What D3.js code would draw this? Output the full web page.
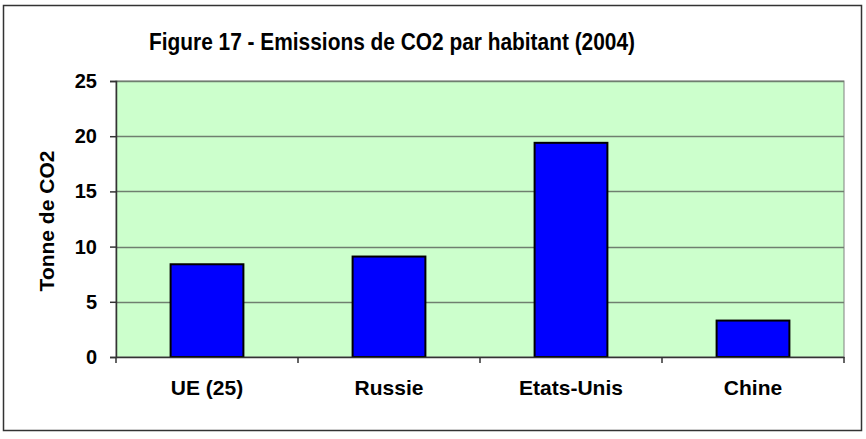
<!DOCTYPE html>
<html>
<head>
<meta charset="utf-8">
<script src="https://cdn.jsdelivr.net/npm/d3@7"></script>
<style>
  body { margin: 0; background: #fff; }
  text { font-family: Arial, "Liberation Sans", sans-serif; font-weight: bold; fill: #000; }
</style>
</head>
<body>
<div id="chart"></div>
<script>
// données
const pays = ["UE (25)", "Russie", "Etats-Unis", "Chine"];
const co2 = [8.4, 9.1, 19.4, 3.3];
const yTicks = [0, 5, 10, 15, 20, 25];

const W = 866, H = 439;
const plot = { left: 116, right: 844, top: 81, bottom: 357 };

const svg = d3.select("#chart").append("svg")
  .attr("width", W)
  .attr("height", H);

// cadre extérieur
svg.append("rect")
  .attr("x", 3.5).attr("y", 5.5)
  .attr("width", 858).attr("height", 425)
  .attr("fill", "#fff")
  .attr("stroke", "#333")
  .attr("stroke-width", 1.5);

const x = d3.scaleBand()
  .domain(pays)
  .range([plot.left, plot.right])
  .paddingInner(0)
  .paddingOuter(0);

const y = d3.scaleLinear()
  .domain([0, 25])
  .range([plot.bottom, plot.top]);

// fond de la zone de traçage
svg.append("rect")
  .attr("x", plot.left).attr("y", plot.top)
  .attr("width", plot.right - plot.left)
  .attr("height", plot.bottom - plot.top)
  .attr("fill", "#CCFFCC")
  .attr("stroke", "#808080");

// quadrillage
svg.append("g")
  .selectAll("line")
  .data(yTicks.filter(d => d > 0))
  .join("line")
  .attr("x1", plot.left).attr("x2", plot.right)
  .attr("y1", d => Math.round(y(d)) + 0.5)
  .attr("y2", d => Math.round(y(d)) + 0.5)
  .attr("stroke", "#6f7f6f")
  .attr("stroke-width", 1.5);

// barres (largeur d'intervalle 150%)
const bw = x.bandwidth() / 2.5;
svg.append("g")
  .selectAll("rect")
  .data(pays)
  .join("rect")
  .attr("x", d => x(d) + (x.bandwidth() - bw) / 2)
  .attr("y", (d, i) => y(co2[i]))
  .attr("width", bw)
  .attr("height", (d, i) => y(0) - y(co2[i]))
  .attr("fill", "#0000FF")
  .attr("stroke", "#000")
  .attr("stroke-width", 2);

// axe Y
const yAxis = svg.append("g")
  .attr("transform", `translate(${plot.left},0)`)
  .call(d3.axisLeft(y).tickValues(yTicks).tickSize(6).tickPadding(13));
yAxis.select(".domain").attr("stroke", "#333").attr("stroke-width", 1.5);
yAxis.selectAll(".tick line").attr("stroke", "#333").attr("stroke-width", 1.5);
yAxis.selectAll(".tick text")
  .attr("font-size", 20)
  .attr("font-family", null)
  .attr("fill", "#000");

// axe X
const xAxis = svg.append("g")
  .attr("transform", `translate(0,${plot.bottom})`)
  .call(d3.axisBottom(x).tickSize(0).tickPadding(23));
xAxis.select(".domain").attr("stroke", "#333").attr("stroke-width", 1.5);
xAxis.selectAll(".tick text")
  .attr("font-size", 21)
  .attr("font-family", null)
  .attr("fill", "#000");

// graduations entre catégories
const bornes = pays.map(d => x(d)).concat([plot.right]);
xAxis.append("g")
  .selectAll("line")
  .data(bornes)
  .join("line")
  .attr("x1", d => d).attr("x2", d => d)
  .attr("y1", 0).attr("y2", 6)
  .attr("stroke", "#333")
  .attr("stroke-width", 1.5);

// titre
svg.append("text")
  .attr("x", 149).attr("y", 50)
  .attr("font-size", 24)
  .attr("textLength", 486)
  .attr("lengthAdjust", "spacingAndGlyphs")
  .text("Figure 17 - Emissions de CO2 par habitant (2004)");

// titre de l'axe Y
svg.append("text")
  .attr("transform", "translate(54,221) rotate(-90)")
  .attr("text-anchor", "middle")
  .attr("font-size", 21)
  .text("Tonne de CO2");
</script>
</body>
</html>
